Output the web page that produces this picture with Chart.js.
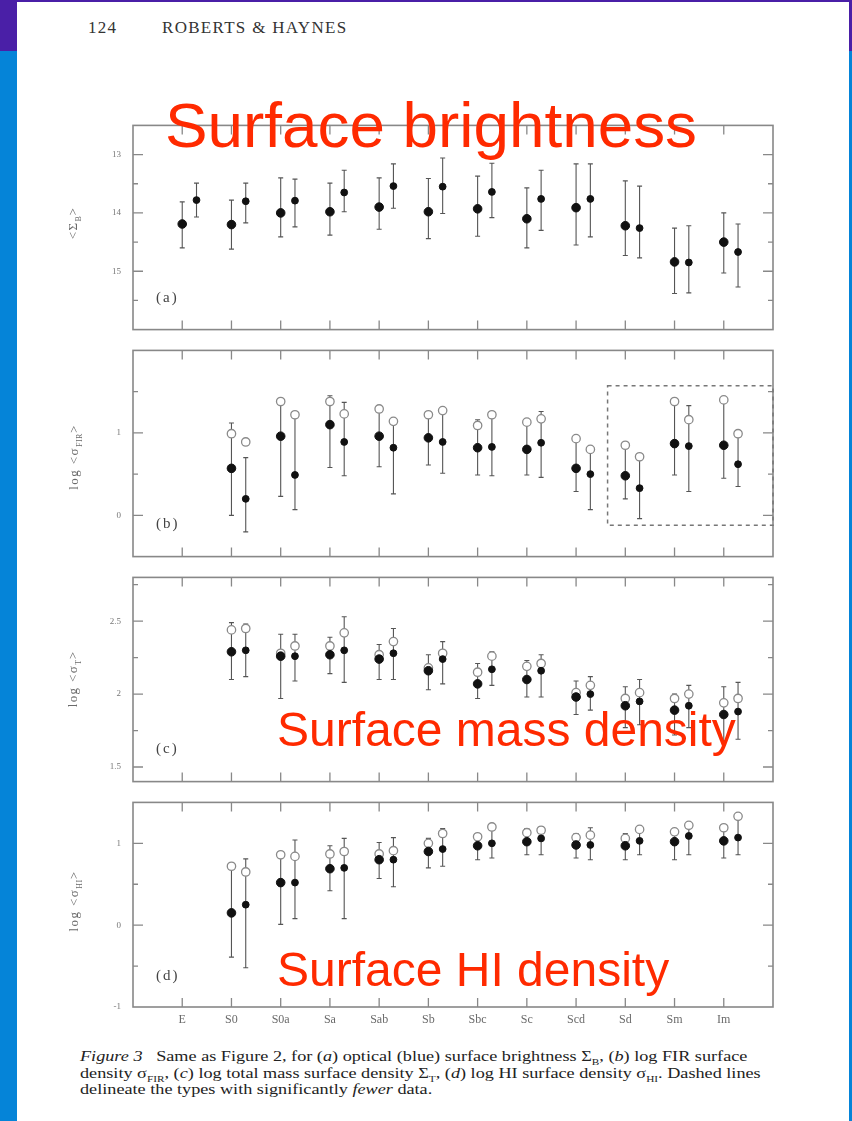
<!DOCTYPE html>
<html>
<head>
<meta charset="utf-8">
<script src="https://cdn.jsdelivr.net/npm/chart.js@4.4.0/dist/chart.umd.min.js"></script>
<style>
  body { margin: 0; background: #fff; }
  #page { position: relative; width: 852px; height: 1121px; overflow: hidden; background: #0584d8; }
  #topband { position: absolute; left: 0; top: 0; width: 852px; height: 51px; background: #4a1fa7; }
  #sheet { position: absolute; left: 17px; top: 2px; width: 832px; height: 1119px; background: #fff; }
  .panel { position: absolute; left: 40px; }
  .serif { font-family: "Liberation Serif", "DejaVu Serif", serif; }
  .head { position: absolute; top: 18px; font-size: 17px; color: #333; letter-spacing: 1.3px; }
  .plab { position: absolute; left: 156px; font-size: 15px; color: #444; letter-spacing: 2px; line-height: 16px; }
  .ytitle { position: absolute; font-size: 13px; color: #6a6a6a; white-space: nowrap; letter-spacing: 1.4px; transform: translate(-50%, -50%) rotate(-90deg); line-height: 14px; }
  .ytitle sub { font-size: 8px; letter-spacing: 0.5px; }
  .red { position: absolute; font-family: "Liberation Sans", Arial, sans-serif; color: #ff2a00; line-height: 1; white-space: nowrap; }
  #caption { position: absolute; left: 80px; top: 1048px; font-size: 14.5px; line-height: 16.5px; color: #222; white-space: nowrap; transform: scaleX(1.255); transform-origin: 0 0; }
  #caption sub { font-size: 9px; line-height: 0; }
</style>
</head>
<body>
<div id="page">
  <div id="topband"></div>
  <div id="sheet"></div>

  <div class="head serif" style="left:88px">124</div>
  <div class="head serif" style="left:162px">ROBERTS &amp; HAYNES</div>

  <div class="panel"><canvas id="pa" width="760" height="215"></canvas></div>
  <div class="panel"><canvas id="pb" width="760" height="217"></canvas></div>
  <div class="panel"><canvas id="pc" width="760" height="215"></canvas></div>
  <div class="panel"><canvas id="pd" width="760" height="234"></canvas></div>

  <div class="ytitle serif" style="left:76px; top:223px">&lt;Σ<sub>B</sub>&gt;</div>
  <div class="ytitle serif" style="left:77px; top:457px">log &lt;σ<sub>FIR</sub>&gt;</div>
  <div class="ytitle serif" style="left:76px; top:679px">log &lt;σ<sub>T</sub>&gt;</div>
  <div class="ytitle serif" style="left:77px; top:901px">log &lt;σ<sub>HI</sub>&gt;</div>

  <div class="plab serif" style="top:289px">(a)</div>
  <div class="plab serif" style="top:515px">(b)</div>
  <div class="plab serif" style="top:740px">(c)</div>
  <div class="plab serif" style="top:967px">(d)</div>

  <div class="red" style="left:165px; top:94px; font-size:63.8px">Surface brightness</div>
  <div class="red" style="left:277px; top:706px; font-size:48px">Surface mass density</div>
  <div class="red" style="left:277px; top:946px; font-size:48px">Surface HI density</div>

  <div id="caption" class="serif"><i>Figure 3</i>&nbsp;&nbsp; Same as Figure 2, for (<i>a</i>) optical (blue) surface brightness Σ<sub>B</sub>, (<i>b</i>) log FIR surface<br>density σ<sub>FIR</sub>, (<i>c</i>) log total mass surface density Σ<sub>T</sub>, (<i>d</i>) log HI surface density σ<sub>HI</sub>. Dashed lines<br>delineate the types with significantly <i>fewer</i> data.</div>
</div>

<script>
// morphological types along the x axis
const types = ["E", "S0", "S0a", "Sa", "Sab", "Sb", "Sbc", "Sc", "Scd", "Sd", "Sm", "Im"]
const shift2 = 0.29   // second point of each type sits a bit to the right

// (a) surface brightness  (axis reversed)
const aVal1 = [14.19, 14.2, 14.0, 13.98, 13.9, 13.98, 13.93, 14.1, 13.91, 14.22, 14.84, 14.5]
const aErr1 = [[13.81, 14.6], [13.78, 14.62], [13.4, 14.41], [13.49, 14.38], [13.4, 14.28], [13.41, 14.44], [13.37, 14.4], [13.57, 14.6], [13.16, 14.55], [13.45, 14.73], [14.26, 15.38], [14.0, 15.03]]
const aVal2 = [13.78, 13.8, 13.79, 13.65, 13.54, 13.55, 13.64, 13.76, 13.76, 14.26, 14.85, 14.67]
const aErr2 = [[13.49, 14.07], [13.49, 14.17], [13.42, 14.24], [13.27, 13.98], [13.16, 13.92], [13.06, 14.01], [13.15, 14.08], [13.27, 14.3], [13.16, 14.41], [13.54, 14.77], [14.22, 15.37], [14.19, 15.27]]
const aTicks = [13, 13.5, 14, 14.5, 15, 15.5]
const aLabels = [13, 14, 15]

// (b) log FIR surface density
const bVal1 = [null, 0.57, 0.96, 1.1, 0.96, 0.94, 0.82, 0.8, 0.57, 0.48, 0.87, 0.85]
const bErr1 = [null, [0.0, 1.12], [0.23, 1.39], [0.58, 1.45], [0.59, 1.33], [0.61, 1.23], [0.49, 1.16], [0.49, 1.16], [0.29, 0.94], [0.2, 0.85], [0.49, 1.38], [0.45, 1.39]]
const bOpen1 = [null, 0.99, 1.38, 1.38, 1.29, 1.22, 1.09, 1.13, 0.93, 0.85, 1.38, 1.4]
const bVal2 = [null, 0.2, 0.49, 0.89, 0.82, 0.89, 0.83, 0.88, 0.5, 0.33, 0.84, 0.62]
const bErr2 = [null, [-0.2, 0.7], [0.07, 1.23], [0.48, 1.37], [0.26, 1.15], [0.51, 1.29], [0.48, 1.26], [0.46, 1.26], [0.07, 0.81], [-0.04, 0.72], [0.29, 1.33], [0.35, 1.0]]
const bOpen2 = [null, 0.89, 1.22, 1.23, 1.14, 1.27, 1.22, 1.17, 0.8, 0.71, 1.16, 0.99]
const bTicks = [0, 0.5, 1, 1.5]
const bLabels = [0, 1]
const bFewer = [8.64, 12, -0.12, 1.57]   // x from, x to, y from, y to (axis units)

// (c) log total mass surface density
const cVal1 = [null, 2.29, 2.26, 2.27, 2.24, 2.16, 2.07, 2.1, 1.98, 1.92, 1.89, 1.86]
const cErr1 = [null, [2.1, 2.49], [1.97, 2.41], [2.14, 2.39], [2.1, 2.34], [2.03, 2.27], [1.97, 2.21], [1.98, 2.23], [1.86, 2.09], [1.77, 2.05], [1.72, 2.0], [1.68, 2.05]]
const cOpen1 = [null, 2.44, 2.28, 2.33, 2.27, 2.18, 2.15, 2.19, 2.01, 1.97, 1.97, 1.94]
const cVal2 = [null, 2.3, 2.26, 2.3, 2.28, 2.24, 2.17, 2.16, 2.0, 1.95, 1.92, 1.88]
const cErr2 = [null, [2.12, 2.48], [2.09, 2.41], [2.08, 2.53], [2.1, 2.45], [2.07, 2.36], [2.06, 2.29], [1.98, 2.27], [1.89, 2.12], [1.79, 2.1], [1.77, 2.06], [1.69, 2.08]]
const cOpen2 = [null, 2.45, 2.33, 2.42, 2.36, 2.28, 2.26, 2.21, 2.06, 2.01, 2.0, 1.97]
const cTicks = [1.5, 1.75, 2, 2.25, 2.5, 2.75]
const cLabels = [1.5, 2, 2.5]

// (d) log HI surface density
const dVal1 = [null, 0.15, 0.52, 0.69, 0.8, 0.9, 0.97, 1.02, 0.98, 0.97, 1.02, 1.03]
const dErr1 = [null, [-0.39, 0.73], [0.01, 0.87], [0.42, 0.97], [0.57, 1.01], [0.7, 1.06], [0.8, 1.1], [0.86, 1.18], [0.82, 1.12], [0.8, 1.12], [0.8, 1.17], [0.82, 1.2]]
const dOpen1 = [null, 0.72, 0.86, 0.87, 0.87, 1.0, 1.08, 1.13, 1.07, 1.06, 1.14, 1.19]
const dVal2 = [null, 0.25, 0.52, 0.7, 0.8, 0.93, 1.0, 1.06, 0.98, 1.03, 1.09, 1.07]
const dErr2 = [null, [-0.52, 0.81], [0.08, 1.04], [0.08, 1.06], [0.47, 1.07], [0.72, 1.18], [0.82, 1.2], [0.86, 1.2], [0.8, 1.19], [0.86, 1.15], [0.86, 1.24], [0.86, 1.32]]
const dOpen2 = [null, 0.65, 0.84, 0.9, 0.91, 1.12, 1.2, 1.16, 1.1, 1.17, 1.22, 1.33]
const dTicks = [-0.5, 0, 0.5, 1]
const dLabels = [-1, 0, 1]


function pts(vals, errs, shift) {
    return vals.map((v, i) => v == null ? null : {
        x: i + shift,
        y: v,
        lo: errs ? errs[i][0] : null,
        hi: errs ? errs[i][1] : null
    }).filter(p => p)
}

function filled(vals, errs, shift, r) {
    return { data: pts(vals, errs, shift), pointRadius: r, pointBackgroundColor: "#111", pointBorderColor: "#111", pointBorderWidth: 1, showLine: false, order: 1 }
}

function open(vals, shift) {
    return { data: pts(vals, null, shift), pointRadius: 4.2, pointBackgroundColor: "#fff", pointBorderColor: "#8a8a8a", pointBorderWidth: 1.3, showLine: false, order: 3 }
}


// frame, inward ticks, error bars and dashed box
const framePlugin = {
    id: "frame",
    beforeDatasetsDraw(chart, args, opts) {
        const ctx = chart.ctx
        const x = chart.scales.x, y = chart.scales.y
        ctx.save()
        ctx.strokeStyle = "#555"
        ctx.lineWidth = 1.1
        chart.data.datasets.forEach(ds => {
            ds.data.forEach(p => {
                if (p.lo == null) return
                const px = x.getPixelForValue(p.x)
                const p1 = y.getPixelForValue(p.lo), p2 = y.getPixelForValue(p.hi)
                ctx.beginPath()
                ctx.moveTo(px, p1); ctx.lineTo(px, p2)
                ctx.moveTo(px - 2.5, p1); ctx.lineTo(px + 2.5, p1)
                ctx.moveTo(px - 2.5, p2); ctx.lineTo(px + 2.5, p2)
                ctx.stroke()
            })
        })
        ctx.restore()
    },
    afterDraw(chart, args, opts) {
        const ctx = chart.ctx
        const ca = chart.chartArea
        const x = chart.scales.x, y = chart.scales.y
        ctx.save()
        ctx.strokeStyle = "#888"
        ctx.lineWidth = 1.6
        ctx.strokeRect(ca.left, ca.top, ca.right - ca.left, ca.bottom - ca.top)

        ctx.lineWidth = 1.3
        ctx.beginPath()
        types.forEach((t, i) => {
            const px = x.getPixelForValue(i)
            ctx.moveTo(px, ca.top); ctx.lineTo(px, ca.top + 9)
            ctx.moveTo(px, ca.bottom); ctx.lineTo(px, ca.bottom - 9)
        })
        opts.ticks.forEach(v => {
            const py = y.getPixelForValue(v)
            const len = opts.labels.includes(v) ? 10 : 5
            ctx.moveTo(ca.left, py); ctx.lineTo(ca.left + len, py)
            ctx.moveTo(ca.right, py); ctx.lineTo(ca.right - len, py)
        })
        ctx.stroke()

        if (opts.box) {
            const b = opts.box
            ctx.setLineDash([4, 4])
            ctx.lineWidth = 1.5
            ctx.strokeStyle = "#777"
            const x0 = x.getPixelForValue(b[0]), x1 = x.getPixelForValue(b[1])
            const y0 = y.getPixelForValue(b[2]), y1 = y.getPixelForValue(b[3])
            ctx.strokeRect(x0, y1, x1 - x0, y0 - y1)
        }
        ctx.restore()
    }
}


function panelConfig(yMin, yMax, reverse, ticks, labels, datasets, showX, box) {
    return {
        type: "scatter",
        data: { datasets: datasets() },
        options: {
            responsive: false,
            animation: false,
            events: [],
            layout: { padding: { top: 5, right: 27, bottom: showX ? 0 : 5, left: 0 }, autoPadding: false },
            plugins: {
                legend: { display: false },
                tooltip: { enabled: false },
                frame: { ticks: ticks, labels: labels, box: box }
            },
            scales: {
                x: {
                    type: "linear",
                    min: -1,
                    max: 12,
                    display: showX,
                    grid: { display: false, drawTicks: false },
                    border: { display: false },
                    afterBuildTicks: s => { s.ticks = types.map((t, i) => ({ value: i })) },
                    afterFit: s => { if (showX) s.height = 24 },
                    ticks: {
                        callback: v => types[v],
                        color: "#6a6a6a",
                        font: { family: "Liberation Serif", size: 12 },
                        padding: 6,
                        maxRotation: 0,
                        autoSkip: false
                    }
                },
                y: {
                    type: "linear",
                    min: yMin,
                    max: yMax,
                    reverse: reverse,
                    grid: { display: false, drawTicks: false },
                    border: { display: false },
                    afterBuildTicks: s => { s.ticks = labels.map(v => ({ value: v })) },
                    afterFit: s => { s.width = 93 },
                    ticks: {
                        callback: v => String(v),
                        color: "#777",
                        font: { family: "Liberation Serif", size: 9 },
                        padding: 12
                    }
                }
            }
        },
        plugins: [framePlugin]
    }
}

// build once to read the insets, then size the canvas so the frame lands on top..bottom
function makePanel(id, top, bottom, yMin, yMax, reverse, ticks, labels, datasets, showX, box) {
    const canvas = document.getElementById(id)
    let chart = new Chart(canvas, panelConfig(yMin, yMax, reverse, ticks, labels, datasets, showX, box))
    const inTop = chart.chartArea.top
    const inBottom = chart.height - chart.chartArea.bottom
    chart.destroy()
    canvas.height = bottom - top + inTop + inBottom
    canvas.style.height = canvas.height + "px"
    canvas.parentNode.style.top = (top - inTop) + "px"
    new Chart(canvas, panelConfig(yMin, yMax, reverse, ticks, labels, datasets, showX, box))
}


makePanel("pa", 125, 330, 12.5, 16, true, aTicks, aLabels, () => [
    filled(aVal1, aErr1, 0, 4.3),
    filled(aVal2, aErr2, shift2, 3.4)
], false, null)

makePanel("pb", 350, 557, -0.5, 2, false, bTicks, bLabels, () => [
    filled(bVal1, bErr1, 0, 4.3),
    filled(bVal2, bErr2, shift2, 3.4),
    open(bOpen1, 0),
    open(bOpen2, shift2)
], false, bFewer)

makePanel("pc", 577, 782, 1.4, 2.8, false, cTicks, cLabels, () => [
    filled(cVal1, cErr1, 0, 4.3),
    filled(cVal2, cErr2, shift2, 3.4),
    open(cOpen1, 0),
    open(cOpen2, shift2)
], false, null)

makePanel("pd", 802, 1007, -1, 1.5, false, dTicks, dLabels, () => [
    filled(dVal1, dErr1, 0, 4.3),
    filled(dVal2, dErr2, shift2, 3.4),
    open(dOpen1, 0),
    open(dOpen2, shift2)
], true, null)
</script>
</body>
</html>
